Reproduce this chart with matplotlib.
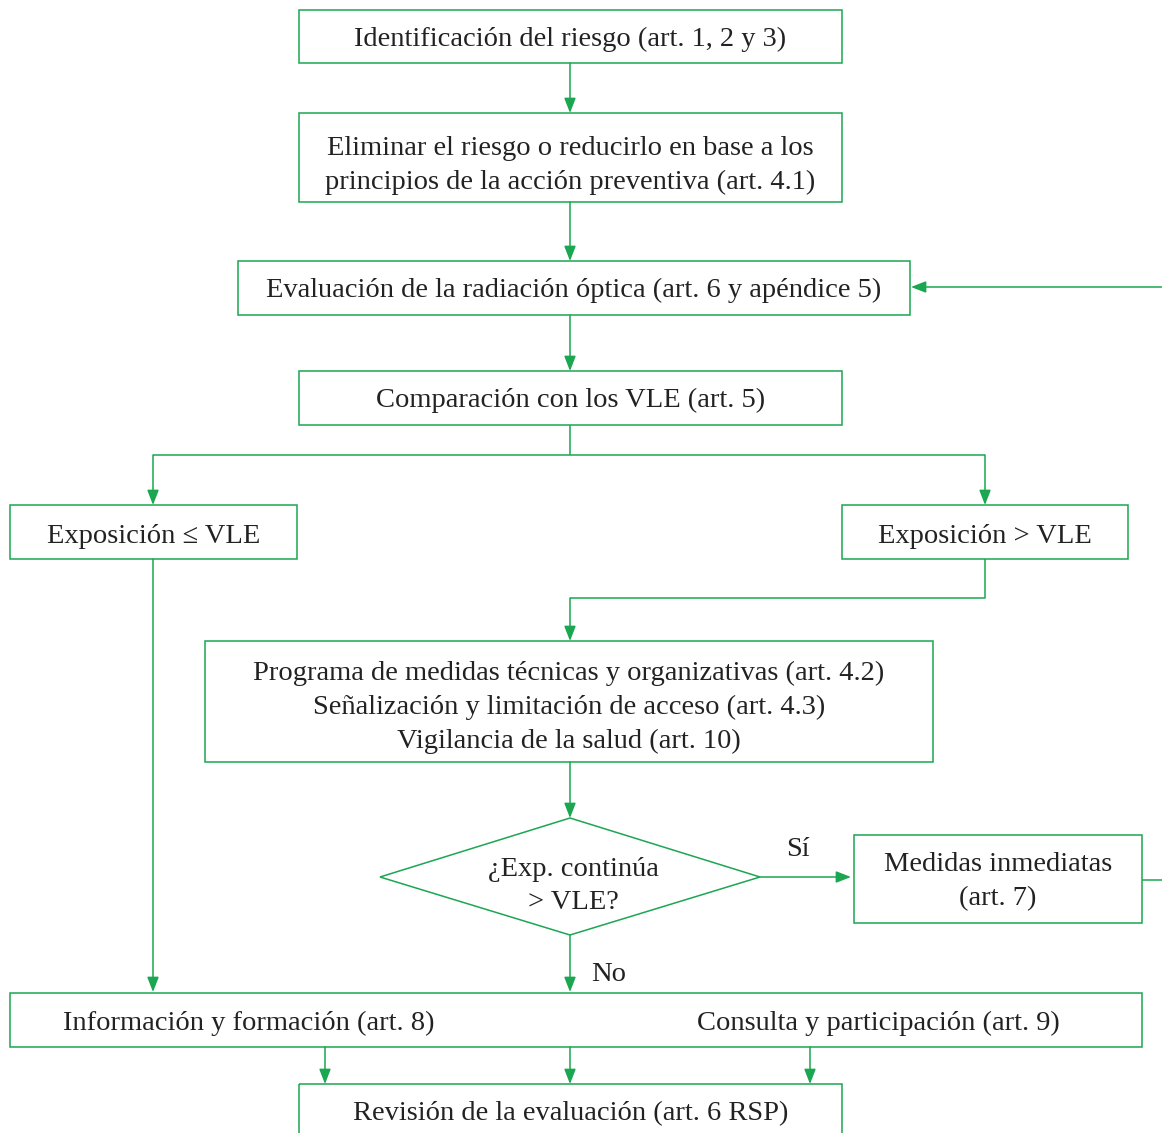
import matplotlib.pyplot as plt
from matplotlib.patches import Rectangle, Polygon

# Texts of the flowchart
box_texts = [
    "Identificación del riesgo (art. 1, 2 y 3)",
    "Eliminar el riesgo o reducirlo en base a los\nprincipios de la acción preventiva (art. 4.1)",
    "Evaluación de la radiación óptica (art. 6 y apéndice 5)",
    "Comparación con los VLE (art. 5)",
    "Exposición ≤ VLE",
    "Exposición > VLE",
    "Programa de medidas técnicas y organizativas (art. 4.2)\n"
    "Señalización y limitación de acceso (art. 4.3)\n"
    "Vigilancia de la salud (art. 10)",
    "Medidas inmediatas\n(art. 7)",
    "",
    "Revisión de la evaluación (art. 6 RSP)",
]
decision_text = "¿Exp. continúa\n> VLE?"
yes_label = "Sí"
no_label = "No"
info_text = "Información y formación (art. 8)"
consult_text = "Consulta y participación (art. 9)"

GREEN = "#1ba651"
W, H = 1162, 1133
FS = 20.5
DY = 3.5  # matplotlib centers on the full bbox; nudge down to match

fig = plt.figure(figsize=(W / 100, H / 100), dpi=100)
ax = fig.add_axes([0, 0, 1, 1])
ax.set_xlim(0, W)
ax.set_ylim(H, 0)
ax.axis('off')
plt.rcParams['font.family'] = ['Liberation Serif', 'DejaVu Serif']

# box layout in pixels: x0, y0, x1, y1, text center y
boxes = [
    (299, 10, 842, 63, 36),
    (299, 113, 842, 202, 162),
    (238, 261, 910, 315, 287),
    (299, 371, 842, 425, 397),
    (10, 505, 297, 559, 533),
    (842, 505, 1128, 559, 533),
    (205, 641, 933, 762, 704),
    (854, 835, 1142, 923, 878),
    (10, 993, 1142, 1047, 1020),
    (299, 1084, 842, 1160, 1110),
]

for (x0, y0, x1, y1, ty), txt in zip(boxes, box_texts):
    ax.add_patch(Rectangle((x0, y0), x1 - x0, y1 - y0, fill=False,
                           ec=GREEN, lw=1.1))
    if txt:
        ax.text((x0 + x1) / 2, ty + DY, txt, ha='center', va='center',
                fontsize=FS, color='#222222', linespacing=1.45)

# decision diamond
dia = [(380, 877), (570, 818), (760, 877), (570, 935)]
ax.add_patch(Polygon(dia, closed=True, fill=False, ec=GREEN, lw=1.1))
ax.text(573, 882.5 + DY, decision_text, ha='center', va='center', fontsize=FS,
        color='#222222', linespacing=1.45)

ax.text(249, 1020 + DY, info_text, ha='center', va='center', fontsize=FS, color='#222222')
ax.text(878, 1020 + DY, consult_text, ha='center', va='center', fontsize=FS, color='#222222')
ax.text(798, 846 + DY, yes_label, ha='center', va='center', fontsize=FS, color='#222222')
ax.text(609, 971 + DY, no_label, ha='center', va='center', fontsize=FS, color='#222222')


def arrow(p0, p1):
    ax.annotate('', xy=p1, xytext=p0,
                arrowprops=dict(arrowstyle='-|>,head_length=0.9,head_width=0.35',
                                color=GREEN, lw=1.1, shrinkA=0, shrinkB=0))


def line(xs, ys):
    ax.plot(xs, ys, color=GREEN, lw=1.1, solid_capstyle='butt')


arrow((570, 63), (570, 113))
arrow((570, 202), (570, 261))
arrow((W, 287), (911, 287))
arrow((570, 315), (570, 371))
line([570, 570], [425, 455])
line([153, 985], [455, 455])
arrow((153, 455), (153, 505))
arrow((985, 455), (985, 505))
line([985, 985, 570], [559, 598, 598])
arrow((570, 598), (570, 641))
arrow((570, 762), (570, 818))
arrow((760, 877), (851, 877))
line([1142, W], [880, 880])
arrow((153, 559), (153, 992))
arrow((570, 935), (570, 992))
for x in (325, 570, 810):
    arrow((x, 1047), (x, 1084))

fig.savefig('out.png', dpi=100)
